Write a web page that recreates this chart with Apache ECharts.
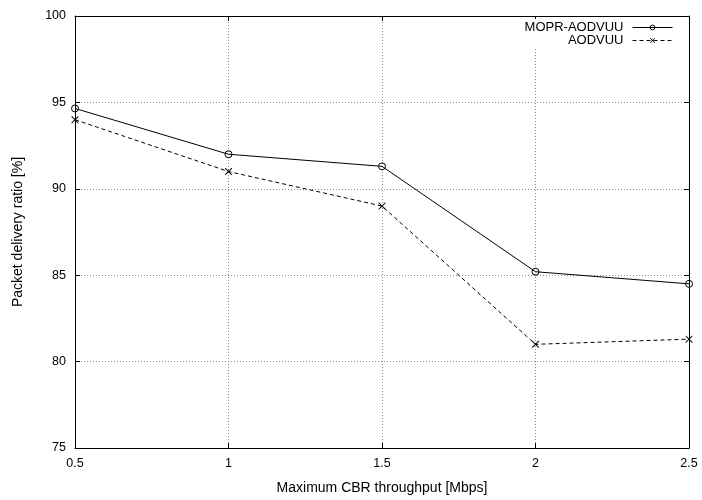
<!DOCTYPE html>
<html>
<head>
<meta charset="utf-8">
<script src="https://cdn.jsdelivr.net/npm/echarts@6/dist/echarts.min.js"></script>
<style>
  html, body { margin: 0; padding: 0; background: #fff; }
  #chart { width: 702px; height: 500px; }
</style>
</head>
<body>
<div id="chart"></div>
<script>
// Throughput settings (Mbps) and delivery ratio (%) per protocol
var throughput = [0.5, 1, 1.5, 2, 2.5];
var moprAodvuu = [94.65, 92.0, 91.3, 85.2, 84.5];
var aodvuu = [94.0, 91.0, 89.0, 81.0, 81.3];
var seriesNames = ['MOPR-AODVUU', 'AODVUU'];

var FONT = '"Liberation Sans", Arial, sans-serif';
var crossPath = 'path://M0,0L1,0L5,4L9,0L10,0L10,1L6,5L10,9L10,10L9,10L5,6L1,10L0,10L0,9L4,5L0,1Z';

function pairs(xs, ys) {
  return xs.map(function (x, i) { return [x, ys[i]]; });
}

var gridLine = { show: true, lineStyle: { color: '#8a8a8a', width: 1, type: [1, 2] } };
var axisLine = { show: true, onZero: false, lineStyle: { color: '#000', width: 1 } };
var tick = { show: true, inside: true, length: 5, lineStyle: { color: '#000' } };

var chart = echarts.init(document.getElementById('chart'), null, { renderer: 'canvas' });
chart.setOption({
  animation: false,
  backgroundColor: '#fff',
  grid: { left: 75, right: 13, top: 16, bottom: 47, containLabel: false },
  legend: {
    orient: 'vertical',
    right: 29,
    top: 19,
    align: 'right',
    itemWidth: 40,
    itemHeight: 6,
    itemGap: 0,
    padding: [2, 0, 2, 34],
    backgroundColor: '#fff',
    lineStyle: { width: 1 },
    itemStyle: { borderWidth: 1 },
    textStyle: { fontFamily: FONT, fontSize: 13, lineHeight: 13, color: '#000', padding: [0, 4, 0, 0] },
    data: seriesNames
  },
  xAxis: [{
    type: 'value', min: 0.5, max: 2.5, interval: 0.5, position: 'bottom',
    name: 'Maximum CBR throughput [Mbps]', nameLocation: 'middle', nameGap: 33,
    nameTextStyle: { fontFamily: FONT, fontSize: 14, color: '#000' },
    axisLine: axisLine, axisTick: tick,
    axisLabel: { fontFamily: FONT, fontSize: 12.5, color: '#000', margin: 9, showMaxLabel: true, showMinLabel: true },
    splitLine: gridLine
  }, {
    type: 'value', min: 0.5, max: 2.5, interval: 0.5, position: 'top',
    axisLine: axisLine, axisTick: tick, axisLabel: { show: false }, splitLine: { show: false }
  }],
  yAxis: [{
    type: 'value', min: 75, max: 100, interval: 5, position: 'left',
    name: 'Packet delivery ratio [%]', nameLocation: 'middle', nameGap: 50,
    nameTextStyle: { fontFamily: FONT, fontSize: 14, color: '#000' },
    axisLine: axisLine, axisTick: tick,
    axisLabel: { fontFamily: FONT, fontSize: 12.5, color: '#000', margin: 9 },
    splitLine: gridLine
  }, {
    type: 'value', min: 75, max: 100, interval: 5, position: 'right',
    axisLine: axisLine, axisTick: tick, axisLabel: { show: false }, splitLine: { show: false }
  }],
  series: [{
    name: seriesNames[0],
    type: 'line',
    data: pairs(throughput, moprAodvuu),
    symbol: 'circle',
    symbolSize: 7,
    showAllSymbol: true,
    lineStyle: { color: '#000', width: 1 },
    itemStyle: { color: 'rgba(0,0,0,0)', borderColor: '#000', borderWidth: 1 },
    z: 5
  }, {
    name: seriesNames[1],
    type: 'line',
    data: pairs(throughput, aodvuu),
    symbol: crossPath,
    symbolSize: 7,
    showAllSymbol: true,
    lineStyle: { color: '#000', width: 1, type: [4, 3] },
    itemStyle: { color: '#000' },
    z: 5
  }]
});
</script>
</body>
</html>
